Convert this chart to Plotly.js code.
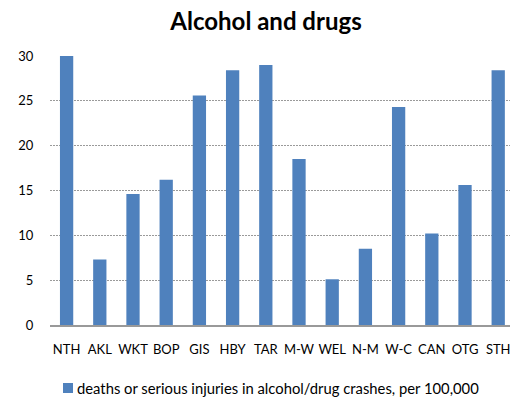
<!DOCTYPE html>
<html>
<head>
<meta charset="utf-8">
<script src="https://cdn.plot.ly/plotly-3.0.1.min.js"></script>
<style>html,body{margin:0;padding:0;background:#fff;}#chart{width:510px;height:398px;}</style>
</head>
<body>
<div id="chart"></div>
<script>
var categories = ["NTH","AKL","WKT","BOP","GIS","HBY","TAR","M-W","WEL","N-M","W-C","CAN","OTG","STH"];
var values = [30.0, 7.3, 14.6, 16.2, 25.6, 28.4, 29.0, 18.5, 5.1, 8.5, 24.3, 10.2, 15.6, 28.4];
var seriesName = "deaths or serious injuries in alcohol/drug crashes, per 100,000";
var yTicks = [0, 5, 10, 15, 20, 25, 30];
var barColor = "#4f81bd";

var font = "Lato, 'Open Sans', sans-serif";
var trace = {
  type: "bar",
  x: categories,
  y: values,
  name: seriesName,
  marker: {color: barColor},
  showlegend: false
};
// legend drawn as a swatch + text (paper coords: plot x 50..510, y 56..325)
function px(x){ return (x - 50) / 460; }
function py(y){ return (325 - y) / 269; }
var layout = {
  width: 510, height: 398,
  margin: {l: 50, r: 0, t: 56, b: 73},
  paper_bgcolor: "#fff", plot_bgcolor: "#fff",
  font: {family: font, size: 13, color: "#000"},
  title: {text: "<b>Alcohol and drugs</b>", font: {family: font, size: 24, color: "#000"},
          x: 266/510, xref: "container", xanchor: "center", y: 1 - 22/398, yref: "container", yanchor: "middle"},
  bargap: 0.6,
  showlegend: false,
  shapes: [{type: "rect", xref: "paper", yref: "paper", x0: px(63), x1: px(73), y0: py(393), y1: py(383),
            fillcolor: barColor, line: {width: 0}}],
  annotations: [{text: seriesName, xref: "paper", yref: "paper", x: px(75), y: py(388),
                 xanchor: "left", yanchor: "middle", showarrow: false,
                 font: {family: font, size: 14.8, color: "#000"}}],
  xaxis: {type: "category", range: [-0.5, 13.355], showline: true, linecolor: "#999", linewidth: 2,
          showgrid: false, zeroline: false, ticks: "outside", ticklen: 11, tickcolor: "rgba(0,0,0,0)",
          tickfont: {family: font, size: 13, color: "#000"}, fixedrange: true},
  yaxis: {range: [0, 30], tickvals: yTicks, ticktext: yTicks.map(String), showgrid: true,
          gridcolor: "#9a9a9a", griddash: "2px,1px", gridwidth: 1, zeroline: false, showline: false,
          ticks: "outside", ticklen: 13, tickcolor: "rgba(0,0,0,0)",
          tickfont: {family: font, size: 13, color: "#000"}, fixedrange: true}
};
Plotly.newPlot("chart", [trace], layout, {displayModeBar: false, staticPlot: true});
</script>
</body>
</html>
